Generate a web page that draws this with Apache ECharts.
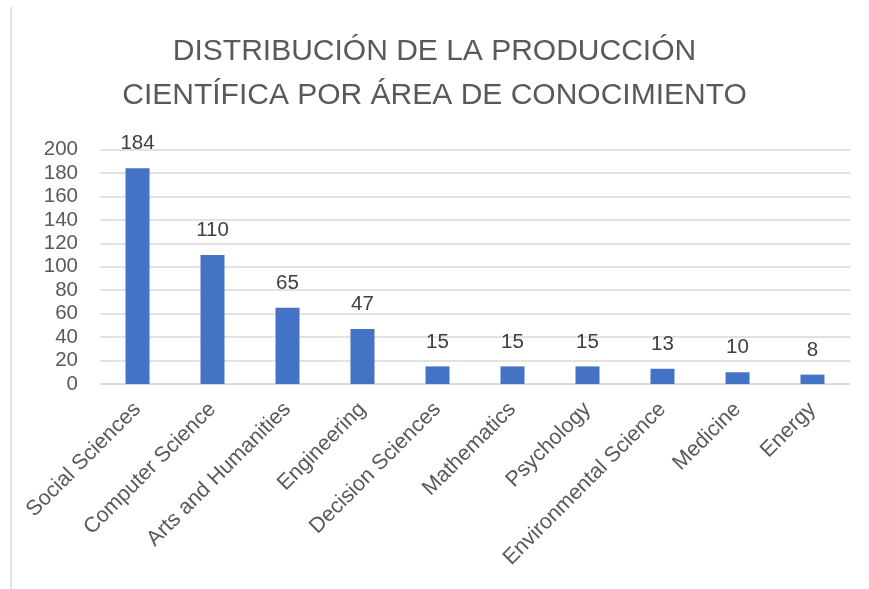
<!DOCTYPE html>
<html>
<head>
<meta charset="utf-8">
<script src="https://cdn.jsdelivr.net/npm/echarts@6/dist/echarts.min.js"></script>
<style>
html,body{margin:0;padding:0;background:#fff;}
#chart{width:869px;height:589px;}
</style>
</head>
<body>
<div id="chart"></div>
<script>
const titleText = 'DISTRIBUCIÓN DE LA PRODUCCIÓN\nCIENTÍFICA POR ÁREA DE CONOCIMIENTO';
const categories = ['Social Sciences','Computer Science','Arts and Humanities','Engineering','Decision Sciences','Mathematics','Psychology','Environmental Science','Medicine','Energy'];
const values = [184,110,65,47,15,15,15,13,10,8];
const yMin = 0, yMax = 200, yStep = 20;

const font = '"Liberation Sans", Arial, sans-serif';
const chart = echarts.init(document.getElementById('chart'), null, {renderer:'canvas'});
chart.setOption({
  backgroundColor:'#ffffff',
  animation:false,
  title:{
    text:titleText,
    left:'center',
    top:25,
    textStyle:{fontFamily:font,fontSize:30,fontWeight:'normal',color:'#595959',lineHeight:44}
  },
  grid:{left:100,right:19,top:149.5,bottom:205,containLabel:false},
  xAxis:{
    type:'category',
    data:categories,
    axisLine:{show:true,lineStyle:{color:'#d9d9d9',width:1.5}},
    axisTick:{show:false},
    axisLabel:{rotate:45,margin:22,interval:0,fontFamily:font,fontSize:21.5,color:'#595959'}
  },
  yAxis:{
    type:'value',
    min:yMin,max:yMax,interval:yStep,
    axisLine:{show:false},
    axisTick:{show:false},
    splitLine:{lineStyle:{color:'#d9d9d9',width:1.5}},
    axisLabel:{margin:22,fontFamily:font,fontSize:20.5,color:'#595959'}
  },
  series:[{
    type:'bar',
    data:values,
    barWidth:'32%',
    itemStyle:{color:'#4472C4'},
    label:{show:true,position:'top',distance:14,fontFamily:font,fontSize:20.5,color:'#404040'}
  }],
  graphic:[{
    type:'line',
    shape:{x1:11,y1:7,x2:11,y2:589},
    style:{stroke:'#d9d9d9',lineWidth:1.5}
  }]
});
</script>
</body>
</html>
